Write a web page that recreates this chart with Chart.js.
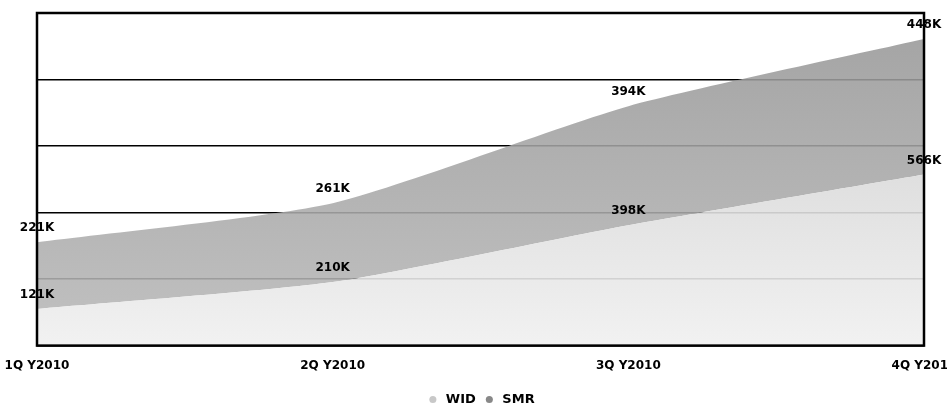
<!DOCTYPE html>
<html>
<head>
<meta charset="utf-8">
<script src="https://cdn.jsdelivr.net/npm/chart.js@4/dist/chart.umd.min.js"></script>
<style>
  html, body { margin: 0; padding: 0; background: #fff; overflow: hidden; }
  #wrap { position: absolute; left: -25px; top: 0; width: 1000px; height: 412px; }
</style>
</head>
<body>
<div id="wrap"><canvas id="grafico"></canvas></div>
<script>
// dados do gráfico (valores em K)
const categorias = ["1Q Y2010", "2Q Y2010", "3Q Y2010", "4Q Y2010"];
const valoresWID = [121, 210, 398, 566];
const valoresSMR = [221, 261, 394, 448];
const eixoMax = 1100;
const eixoPasso = 220;

const fonte = "'DejaVu Sans', Verdana, sans-serif";

function gradiente(ctx, cores) {
    const area = ctx.chart.chartArea;
    if (!area) return cores[0];
    const g = ctx.chart.ctx.createLinearGradient(0, area.top, 0, area.bottom);
    g.addColorStop(0, cores[0]);
    g.addColorStop(1, cores[1]);
    return g;
}

// rótulos de valor acima de cada ponto
const rotulos = {
    id: "rotulos",
    afterDatasetsDraw(chart) {
        const c = chart.ctx;
        c.save();
        c.font = "bold 12px " + fonte;
        c.fillStyle = "#000";
        c.textAlign = "center";
        c.textBaseline = "middle";
        chart.data.datasets.forEach(function (ds, i) {
            chart.getDatasetMeta(i).data.forEach(function (pt, j) {
                c.fillText(ds.data[j] + "K", pt.x, pt.y - 14);
            });
        });
        c.restore();
    }
};

// moldura preta em volta da área do gráfico
const moldura = {
    id: "moldura",
    afterDraw(chart) {
        const a = chart.chartArea;
        const c = chart.ctx;
        c.save();
        c.strokeStyle = "#000";
        c.lineWidth = 2.5;
        c.strokeRect(a.left, a.top, a.right - a.left, a.bottom - a.top);
        c.restore();
    }
};

const ctx = document.getElementById("grafico").getContext("2d");
const grafico = new Chart(ctx, {
    type: "line",
    data: {
        labels: categorias,
        datasets: [{
            label: "WID",
            data: valoresWID,
            fill: "origin",
            backgroundColor: function (c) { return gradiente(c, ["rgba(200,200,200,0.9)", "rgba(240,240,240,0.9)"]); },
            borderColor: "rgba(0,0,0,0)",
            borderWidth: 0,
            pointRadius: 0,
            tension: 0.2
        }, {
            label: "SMR",
            data: valoresSMR,
            fill: "-1",
            backgroundColor: function (c) { return gradiente(c, ["rgba(150,150,150,0.88)", "rgba(185,185,185,0.88)"]); },
            borderColor: "rgba(0,0,0,0)",
            borderWidth: 0,
            pointRadius: 0,
            tension: 0.2
        }]
    },
    options: {
        responsive: true,
        maintainAspectRatio: false,
        animation: false,
        layout: { padding: { top: 13, left: 62, right: 51, bottom: 0 } },
        scales: {
            x: {
                grid: { display: false, drawTicks: false },
                border: { display: false },
                ticks: {
                    color: "#000",
                    font: { family: fonte, size: 12, weight: "bold" },
                    padding: 13,
                    maxRotation: 0,
                    autoSkip: false
                }
            },
            y: {
                stacked: true,
                min: 0,
                max: eixoMax,
                ticks: { display: false, stepSize: eixoPasso },
                grid: { color: "#000", lineWidth: 1.5, drawTicks: false },
                border: { display: false }
            }
        },
        plugins: {
            tooltip: { enabled: false },
            legend: {
                position: "bottom",
                maxHeight: 26,
                labels: {
                    color: "#000",
                    font: { family: fonte, size: 13, weight: "bold" },
                    usePointStyle: true,
                    pointStyle: "circle",
                    boxWidth: 13,
                    boxHeight: 5,
                    padding: 7,
                    generateLabels: function () {
                        return [
                            { text: "WID", fillStyle: "#c8c8c8", strokeStyle: "#c8c8c8", lineWidth: 0, pointStyle: "circle", datasetIndex: 0 },
                            { text: "SMR", fillStyle: "#888888", strokeStyle: "#888888", lineWidth: 0, pointStyle: "circle", datasetIndex: 1 }
                        ];
                    }
                }
            }
        }
    },
    plugins: [rotulos, moldura]
});
</script>
</body>
</html>
